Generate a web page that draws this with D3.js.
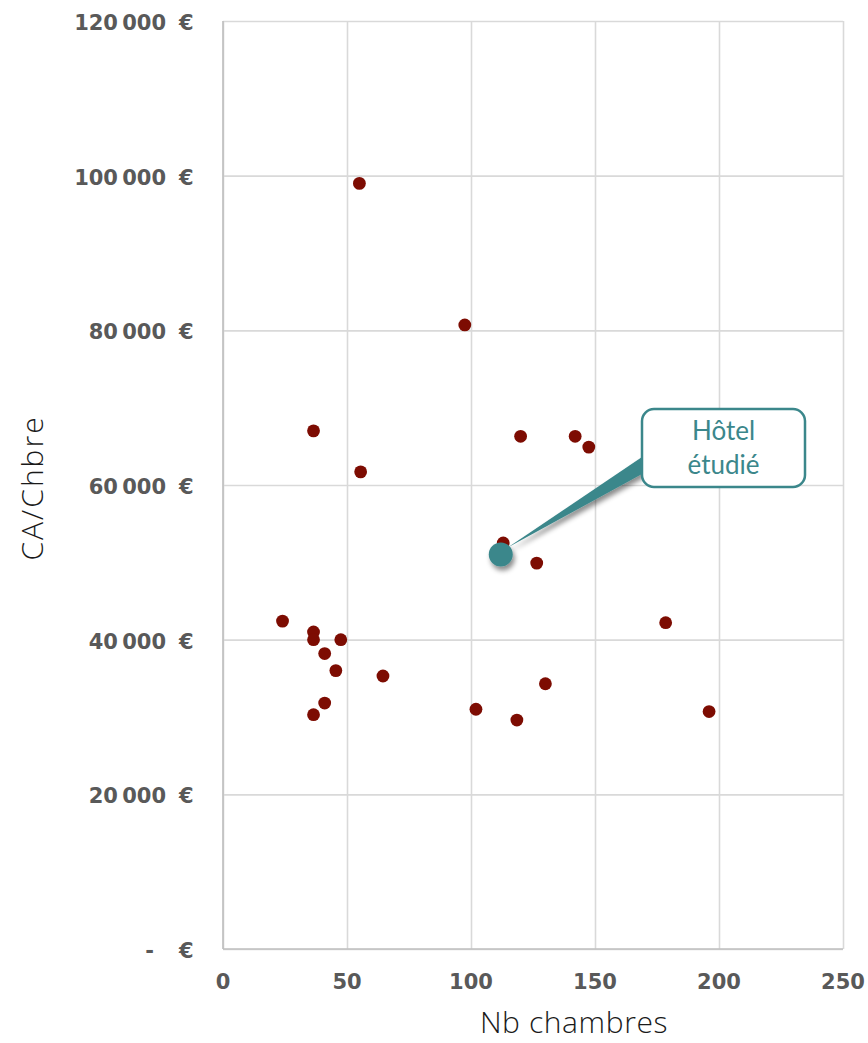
<!DOCTYPE html>
<html>
<head>
<meta charset="utf-8">
<script src="https://cdn.jsdelivr.net/npm/d3@7"></script>
<style>
  body { margin: 0; background: #ffffff; }
  svg { display: block; }
</style>
</head>
<body>
<svg id="chart" width="868" height="1043"></svg>
<script>
// Number of rooms per hotel and revenue per room (CA/Chbre, €)
const rooms = [55, 97.5, 36.5, 55.5, 120, 142, 147.5, 113, 126.5, 24, 36.5, 36.5, 47.5, 41, 45.5, 64.5, 130, 102, 41, 36.5, 118.5, 178.5, 196];
const revenuePerRoom = [99000, 80700, 67000, 61700, 66300, 66300, 64900, 52500, 49900, 42400, 41000, 40000, 40000, 38200, 36000, 35300, 34300, 31000, 31800, 30300, 29600, 42200, 30700];

// The hotel under study
const hotelRooms = [112];
const hotelRevenue = [51000];
const hotelLabel = ["Hôtel", "étudié"];

// Axes
const xTickValues = [0, 50, 100, 150, 200, 250];
const yTickValues = [0, 20000, 40000, 60000, 80000, 100000, 120000];
const xTitle = "Nb chambres";
const yTitle = "CA/Chbre";
const currency = "€";

const svg = d3.select("#chart");

const plot = { left: 223, right: 843, top: 21, bottom: 949 };
const x = d3.scaleLinear().domain([0, 250]).range([plot.left, plot.right]);
const y = d3.scaleLinear().domain([0, 120000]).range([plot.bottom, plot.top]);

// French grouping with a narrow space between thousands
const fmt = d3.formatLocale({ decimal: ",", thousands: "\u2009", grouping: [3], currency: ["", " €"] }).format(",.0f");

const tealColor = "#3b878b";
const dotColor = "#7d0c02";
const tickFont = "'DejaVu Sans', sans-serif";
const titleFont = "'Open Sans', sans-serif";

// Drop shadow for the callout pointer and marker
const defs = svg.append("defs");
const shadow = defs.append("filter").attr("id", "shadow")
  .attr("x", "-50%").attr("y", "-50%").attr("width", "200%").attr("height", "200%");
shadow.append("feDropShadow")
  .attr("dx", 2).attr("dy", 4).attr("stdDeviation", 2.5)
  .attr("flood-color", "#000").attr("flood-opacity", 0.45);

// Gridlines
const gridX = svg.append("g")
  .attr("transform", `translate(0,${plot.bottom})`)
  .call(d3.axisBottom(x).tickValues(xTickValues).tickSize(-(plot.bottom - plot.top)).tickFormat(""));
gridX.select(".domain").remove();
gridX.selectAll("line").attr("stroke", "#d9d9d9").attr("stroke-width", 1.6);

const gridY = svg.append("g")
  .attr("transform", `translate(${plot.left},0)`)
  .call(d3.axisLeft(y).tickValues(yTickValues).tickSize(-(plot.right - plot.left)).tickFormat(""));
gridY.select(".domain").remove();
gridY.selectAll("line").attr("stroke", "#d9d9d9").attr("stroke-width", 1.6);

// Axis lines
svg.append("line")
  .attr("x1", x(0)).attr("x2", x(0)).attr("y1", y(120000)).attr("y2", y(0))
  .attr("stroke", "#bfbfbf").attr("stroke-width", 1.6);
svg.append("line")
  .attr("x1", x(0)).attr("x2", x(250)).attr("y1", y(0)).attr("y2", y(0))
  .attr("stroke", "#bfbfbf").attr("stroke-width", 1.6);

// X tick labels
svg.append("g").selectAll("text")
  .data(xTickValues)
  .join("text")
  .attr("x", d => x(d))
  .attr("y", plot.bottom + 40)
  .attr("text-anchor", "middle")
  .attr("font-family", tickFont)
  .attr("font-weight", "bold")
  .attr("font-size", 21)
  .attr("fill", "#595959")
  .text(d => d);

// Y tick labels (accounting style: amount, then the currency sign in its own column)
const yLabels = svg.append("g").selectAll("g")
  .data(yTickValues)
  .join("g")
  .attr("transform", d => `translate(0,${y(d)})`)
  .attr("font-family", tickFont)
  .attr("font-weight", "bold")
  .attr("font-size", 21)
  .attr("fill", "#595959");
yLabels.append("text")
  .attr("x", d => d === 0 ? 154 : 166)
  .attr("y", 9)
  .attr("text-anchor", "end")
  .text(d => d === 0 ? "-" : fmt(d));
yLabels.append("text")
  .attr("x", 179)
  .attr("y", 9)
  .text(currency);

// Axis titles
svg.append("text")
  .attr("x", 574)
  .attr("y", 1033)
  .attr("text-anchor", "middle")
  .attr("font-family", titleFont)
  .attr("font-weight", 300)
  .attr("font-size", 30)
  .attr("letter-spacing", 0.6)
  .attr("fill", "#1a1a1a")
  .text(xTitle);

svg.append("text")
  .attr("transform", "translate(43,488) rotate(-90)")
  .attr("text-anchor", "middle")
  .attr("font-family", titleFont)
  .attr("font-weight", 300)
  .attr("font-size", 30)
  .attr("letter-spacing", 2)
  .attr("fill", "#1a1a1a")
  .text(yTitle);

// Hotel dots
svg.append("g").selectAll("circle")
  .data(rooms.map((r, i) => ({ r, v: revenuePerRoom[i] })))
  .join("circle")
  .attr("cx", d => x(d.r))
  .attr("cy", d => y(d.v))
  .attr("r", 6.4)
  .attr("fill", dotColor);

// Callout box for the studied hotel
const box = { x0: 642, x1: 805, y0: 409, y1: 487 };
const hx = x(hotelRooms[0]);
const hy = y(hotelRevenue[0]);

const callout = svg.append("g").attr("filter", "url(#shadow)");
callout.append("path")
  .attr("d", `M${box.x0},${box.y0 + 48} L${box.x0},${box.y0 + 65} L${hx + 7},${hy - 7} Z`)
  .attr("fill", tealColor);
callout.append("circle")
  .attr("cx", hx)
  .attr("cy", hy)
  .attr("r", 12)
  .attr("fill", tealColor);

svg.append("rect")
  .attr("x", box.x0).attr("y", box.y0)
  .attr("width", box.x1 - box.x0).attr("height", box.y1 - box.y0)
  .attr("rx", 12).attr("ry", 12)
  .attr("fill", "#ffffff")
  .attr("stroke", tealColor)
  .attr("stroke-width", 2.5);

svg.append("g").selectAll("text")
  .data(hotelLabel)
  .join("text")
  .attr("x", (box.x0 + box.x1) / 2)
  .attr("y", (d, i) => 440 + i * 34)
  .attr("text-anchor", "middle")
  .attr("font-family", "Lato, sans-serif")
  .attr("font-size", 26)
  .attr("fill", tealColor)
  .text(d => d);
</script>
</body>
</html>
